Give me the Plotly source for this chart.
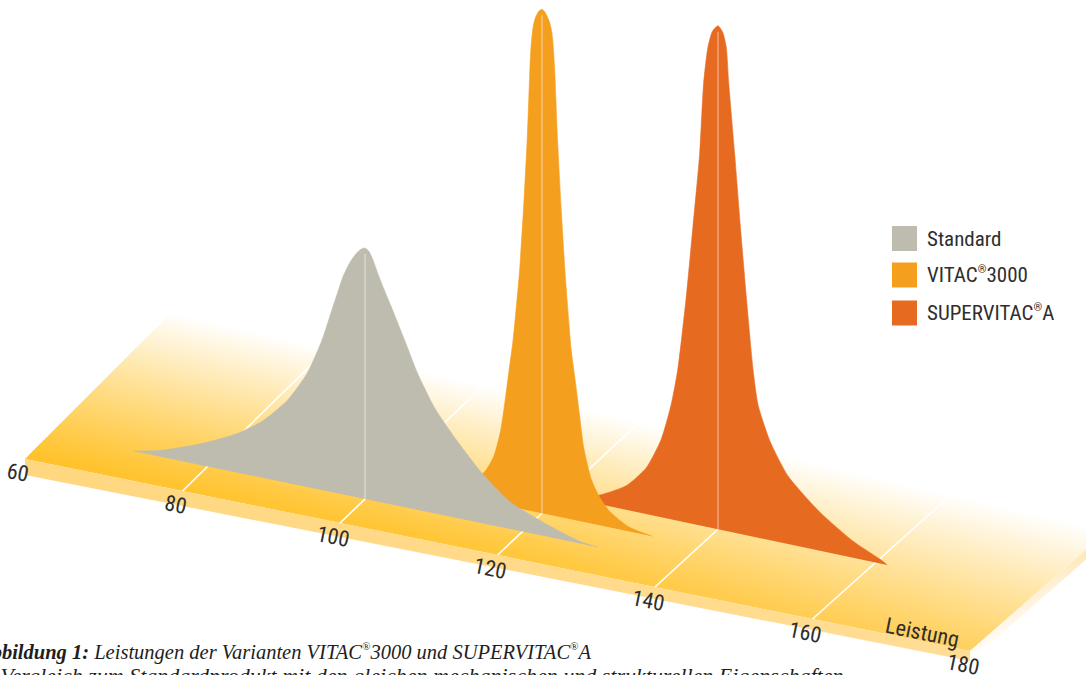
import numpy as np
import plotly.graph_objects as go

# ------------------------------------------------------------------
# DATA
# ------------------------------------------------------------------
REG = "<sup><span style='font-size:11px'>\u00ae</span></sup>"
series_names = ["Standard", "VITAC\u00ae3000", "SUPERVITAC\u00aeA"]
series_labels = ["Standard", "VITAC" + REG + "3000", "SUPERVITAC" + REG + "A"]
tick_values = [60, 80, 100, 120, 140, 160, 180]
tick_labels = ["60", "80", "100", "120", "140", "160", "180"]
grid_values = [80, 100, 120, 140, 160]
axis_title = "Leistung"
caption_line1 = ("<i><b>Abbildung 1:</b> Leistungen der Varianten VITAC" + REG +
                 "3000 und SUPERVITAC" + REG + "A</i>")
caption_line2 = "<i>im Vergleich zum Standardprodukt mit den gleichen mechanischen und strukturellen Eigenschaften</i>"

# Standard (grey) distribution: Leistung vs. relative height
standard_leistung = [70.5, 74.3, 79.4, 83.7, 87.0, 90.1, 92.6, 94.5, 95.9, 96.6, 97.2, 97.8,
                     98.4, 99.0, 99.5, 100.0, 100.5, 101.0, 101.65, 102.5, 103.4, 105.1,
                     106.7, 108.9, 111.7, 115.0, 118.4, 123.1, 127.3, 129.6]
standard_wert = [0, 1.4, 4.4, 7.7, 11.3, 16.3, 22.4, 29.6, 36.7, 40.2, 43.2, 45.4,
                 47.2, 48.6, 49.4, 49.8, 49.3, 47.8, 45.2, 42.1, 39.0, 32.9,
                 27.0, 20.8, 15.3, 9.7, 5.4, 2.4, 0.4, 0]
standard_peak = [100.0, 49.8]

# VITAC 3000 (orange)
vitac_leistung = [106, 108, 110, 112.7, 113.9, 114.75, 115.35, 115.8, 116.35, 117.15, 117.7,
                  118.15, 118.48, 118.6, 118.75, 118.9, 119.15, 119.6, 120, 120.4, 120.9,
                  121.15, 121.35, 121.48, 121.62, 121.98, 122.45, 123.0, 123.72, 124.3,
                  124.75, 125.3, 126.3, 127.3, 128.5, 131, 134]
vitac_wert = [0, 1.0, 2.6, 5.8, 9.4, 14.7, 21.2, 26.8, 33.5, 47.2, 60.9,
              74.6, 88.3, 91.9, 94.6, 96.4, 98.0, 99.5, 100, 99.5, 98.0,
              96.6, 94.6, 91.8, 88.3, 74.6, 60.9, 47.2, 33.5, 26.8,
              21.2, 14.7, 8.6, 5.6, 3.3, 0.9, 0]
vitac_peak = [120.0, 100.0]

# SUPERVITAC A (red-orange)
super_leistung = [118, 121, 124.5, 128.36, 130.9, 132.8, 134.07, 134.92, 135.97, 136.83,
                  137.67, 138.18, 138.73, 139.3, 140, 140.6, 141.05, 141.36, 142.12, 142.83,
                  143.6, 144.44, 145.08, 146.56, 148.89, 152.9, 157.14, 160.5, 161.5]
super_wert = [0, 0.4, 1.5, 4.8, 9.2, 15.5, 22.9, 30.3, 44.8, 59.2,
              73.7, 88.0, 95.3, 98.6, 99.9, 98.8, 96.0, 89.0, 75.1, 61.2,
              47.2, 33.3, 26.4, 19.8, 13.5, 7.7, 3.3, 0.9, 0]
super_peak = [140.0, 99.9]

# ------------------------------------------------------------------
# STYLE / PSEUDO-3D PROJECTION
# ------------------------------------------------------------------
W, H = 1086, 675
X0, Y0 = 25.0, 459.0      # front-left corner of the floor (Leistung 60)
AX, AY = 7.875, 1.6       # screen shift per Leistung unit
HK = 5.04                 # px per height unit
VMIN, VMAX = 60.0, 180.0

def depth_dy(v):
    return 1.0 - 0.00104 * (np.asarray(v, float) - VMIN)

def floor_depth(v):
    return 145.0 - 0.08 * (np.asarray(v, float) - VMIN)

def slab_thick(v):
    return 16.0 - 0.05 * (np.asarray(v, float) - VMIN)

def proj(v, d, h=0.0):
    v = np.asarray(v, float); d = np.asarray(d, float); h = np.asarray(h, float)
    x = X0 + AX * (v - VMIN) + d
    y = Y0 + AY * (v - VMIN) - depth_dy(v) * d - HK * h
    return x, y

colors = ["#BEBCAF", "#F59F1E", "#E66B21"]
line_colors = ["#D9D7CE", "#F9C47E", "#F1A57A"]
depths = [25.0, 44.5, 63.0]
text_color = "#2E2E2E"
sans = "Liberation Sans Narrow, Arial Narrow, Roboto Condensed, Roboto, sans-serif"
serif = "Liberation Serif, Times New Roman, serif"

front_v = [60, 120, 180]
front_rgb = [(255, 194, 42), (255, 199, 58), (255, 209, 98)]

def front_color(v):
    return tuple(np.interp(v, front_v, [c[i] for c in front_rgb]) for i in range(3))

def mixw(c, w):
    return "rgb(%d,%d,%d)" % tuple(int(round(c[i] + (255 - c[i]) * w)) for i in range(3))

def floor_color(v, t):
    w = min(1.0, max(0.0, t)) ** 1.1
    return mixw(front_color(v), w)

fig = go.Figure()

def poly(xs, ys, **kw):
    fig.add_trace(go.Scatter(x=list(xs), y=list(ys), mode="lines", fill="toself",
                             line=dict(width=0), hoverinfo="skip", showlegend=False, **kw))

# ---- floor top (rows from back to front, gradient) ----
N = 44
sv = np.array([60, 90, 120, 150, 180], float)
for i in reversed(range(N)):
    t0 = i / N
    t1 = min(1.0, (i + 1.7) / N)
    tm = (i + 0.5) / N
    vv = [VMIN, VMAX, VMAX, VMIN, VMIN]
    dd = [t0 * floor_depth(VMIN), t0 * floor_depth(VMAX), t1 * floor_depth(VMAX),
          t1 * floor_depth(VMIN), t0 * floor_depth(VMIN)]
    xs, ys = proj(vv, dd)
    cs = [[(s - VMIN) / (VMAX - VMIN), floor_color(s, tm)] for s in sv]
    poly(xs, ys, fillgradient=dict(type="horizontal", colorscale=cs))

# ---- slab right side face ----
dR = floor_depth(VMAX)
tR = slab_thick(VMAX) / HK
xs, ys = proj([VMAX, VMAX, VMAX, VMAX, VMAX], [0, dR, dR, 0, 0], [0, 0, -tR, -tR, 0])
poly(xs, ys, fillgradient=dict(type="vertical",
                               colorscale=[[0, "rgb(255,255,255)"], [0.6, "rgb(255,240,212)"],
                                           [1, "rgb(255,228,170)"]]))

# ---- slab front face ----
vline = np.array([VMIN, VMAX])
xt, yt = proj(vline, 0, 0)
xb, yb = proj(vline[::-1], 0, -slab_thick(vline[::-1]) / HK)
poly(np.r_[xt, xb, xt[:1]], np.r_[yt, yb, yt[:1]],
     fillgradient=dict(type="horizontal",
                       colorscale=[[0, "rgb(255,215,128)"], [1, "rgb(255,221,148)"]]))

# ---- grid lines on floor ----
for gv in grid_values:
    xs, ys = proj([gv, gv], [0, floor_depth(gv)])
    fig.add_trace(go.Scatter(x=xs, y=ys, mode="lines", line=dict(color="white", width=1.6),
                             hoverinfo="skip", showlegend=False))

# ---- distributions (back to front) ----
curves = [(standard_leistung, standard_wert, standard_peak),
          (vitac_leistung, vitac_wert, vitac_peak),
          (super_leistung, super_wert, super_peak)]
for k in [2, 1, 0]:
    lv, hv, pk = curves[k]
    d = depths[k]
    bx, by = proj([lv[0], lv[-1]], d, 0)
    fig.add_trace(go.Scatter(x=bx, y=by, mode="lines", line=dict(width=0, color=colors[k]),
                             hoverinfo="skip", showlegend=False))
    cx, cy = proj(lv, d, hv)
    fig.add_trace(go.Scatter(x=cx, y=cy, mode="lines", fill="tonexty", fillcolor=colors[k],
                             line=dict(width=0.6, color=colors[k], shape="spline", smoothing=0.6),
                             name=series_names[k], hoverinfo="skip", showlegend=False))
    px, py = proj([pk[0], pk[0]], d, [0, pk[1] - 1.2])
    fig.add_trace(go.Scatter(x=px, y=py, mode="lines", line=dict(width=1.5, color=line_colors[k]),
                             hoverinfo="skip", showlegend=False))

# ---- legend (manual) ----
leg_x = 904.5
leg_y = [238.5, 275.0, 313.0]
fig.add_trace(go.Scatter(x=[leg_x] * 3, y=leg_y, mode="markers",
                         marker=dict(symbol="square", size=25, color=colors, line=dict(width=0)),
                         hoverinfo="skip", showlegend=False))

annotations = []
for k in range(3):
    annotations.append(dict(x=925, y=leg_y[k], xref="x", yref="y", text=series_labels[k],
                            showarrow=False, xanchor="left", yanchor="middle",
                            font=dict(family=sans, size=21, color=text_color)))

# ---- tick labels ----
ang = float(np.degrees(np.arctan2(AY, AX)))
for tv, tl in zip(tick_values, tick_labels):
    x, y = proj(tv, 0, 0)
    annotations.append(dict(x=float(x) - 7, y=float(y) + 13, xref="x", yref="y", text=tl,
                            showarrow=False, xanchor="center", yanchor="middle", textangle=ang,
                            font=dict(family=sans, size=22, color=text_color)))
x, y = proj(173, 8, 0)
annotations.append(dict(x=float(x), y=float(y), xref="x", yref="y", text=axis_title,
                        showarrow=False, xanchor="center", yanchor="middle", textangle=ang,
                        font=dict(family=sans, size=22, color=text_color)))

# ---- caption (partly outside the page, as in the reference) ----
annotations.append(dict(x=-26 / W, y=1 - 652 / H, xref="paper", yref="paper", text=caption_line1,
                        showarrow=False, xanchor="left", yanchor="middle",
                        font=dict(family=serif, size=20.5, color="#1E1E1E")))
annotations.append(dict(x=-29 / W, y=1 - 675 / H, xref="paper", yref="paper", text=caption_line2,
                        showarrow=False, xanchor="left", yanchor="middle",
                        font=dict(family=serif, size=22, color="#1E1E1E")))

fig.update_layout(
    width=W, height=H, margin=dict(l=0, r=0, t=0, b=0),
    paper_bgcolor="white", plot_bgcolor="white", showlegend=False,
    xaxis=dict(range=[0, W], visible=False, fixedrange=True),
    yaxis=dict(range=[H, 0], visible=False, fixedrange=True),
    annotations=annotations,
)
fig.write_html("out.html")
